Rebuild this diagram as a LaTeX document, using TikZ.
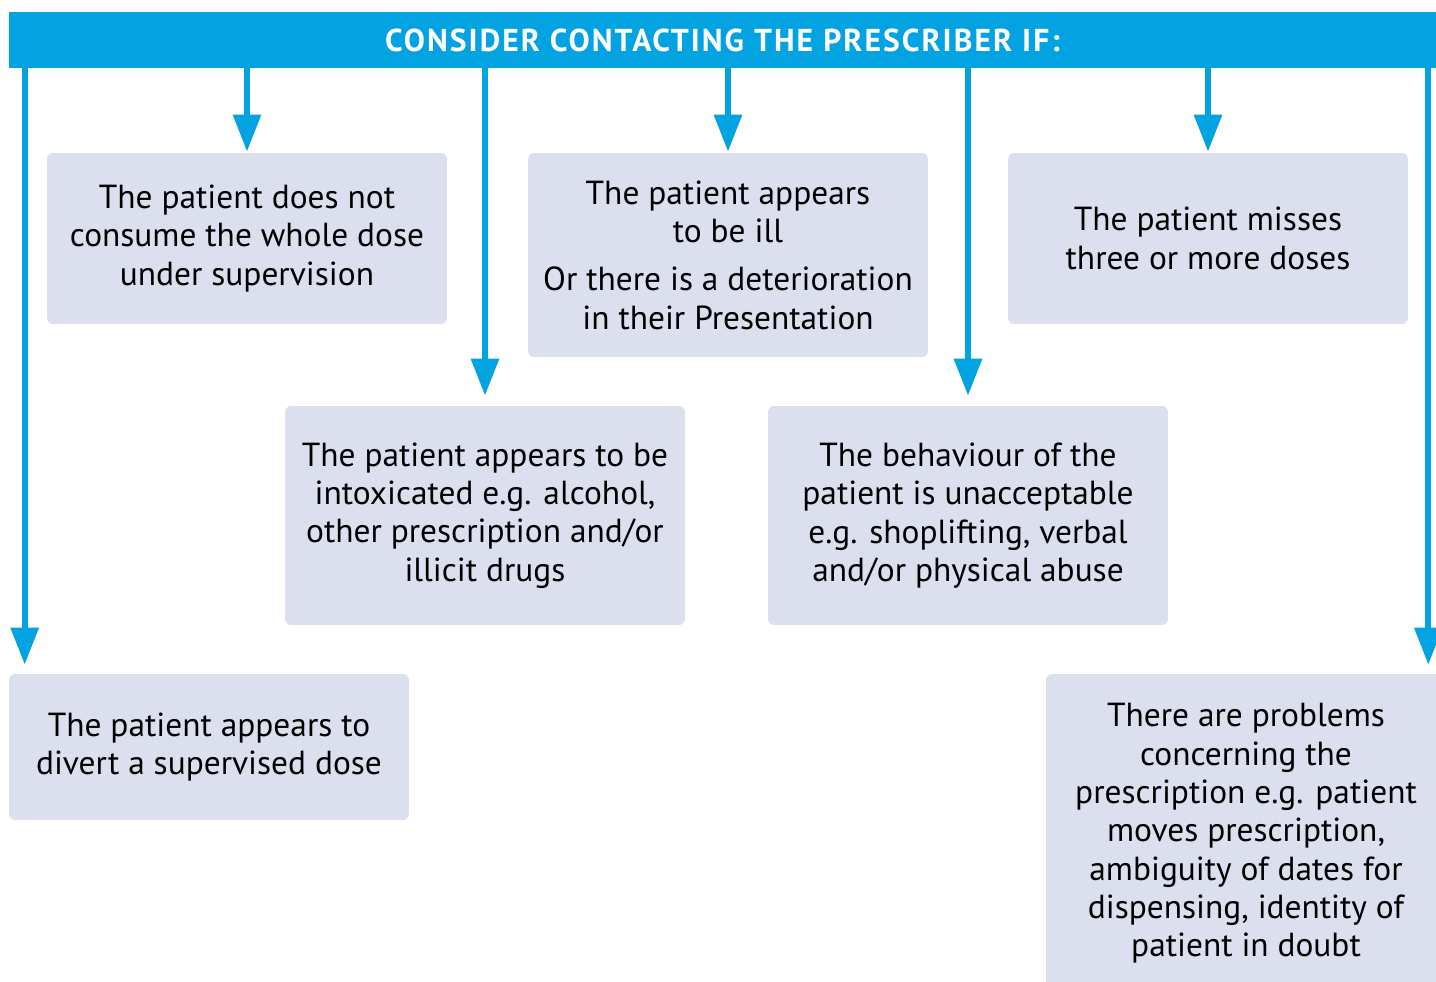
\documentclass[tikz,border=0pt]{standalone}
\usepackage{fontspec}
\setmainfont{PT Sans}
\usetikzlibrary{arrows.meta}
\definecolor{Cyan}{HTML}{03A2E1}
\definecolor{PaleLilac}{HTML}{DCE0EE}

\begin{document}
\begin{tikzpicture}[x=0.02cm,y=-0.02cm,
        box/.style={fill=PaleLilac,rounded corners=0.12cm,minimum width=8cm,inner sep=0pt,
                    align=center,font=\fontsize{19}{21.8}\selectfont},
        arr/.style={-{Triangle[length=0.74cm,width=0.54cm]},line width=0.12cm,Cyan}
      ]
        \useasboundingbox (0,0) rectangle (1436,981);
        \node[fill=Cyan,minimum width=28.54cm,minimum height=1.12cm,inner sep=0pt,text=white,
              font=\fontsize{18}{20}\selectfont\bfseries\addfontfeature{LetterSpace=6.5}] (banner)
              at (722.5,40) {CONSIDER CONTACTING THE PRESCRIBER IF:};
        \node[box,minimum height=3.42cm] (wholedose) at (247,238.5)
              {The patient does not\\consume the whole dose\\under supervision};
        \node[box,minimum height=4.08cm] (ill) at (728,255)
              {The patient appears\\to be ill\\[0.2cm]Or there is a deterioration\\in their Presentation};
        \node[box,minimum height=3.42cm] (misses) at (1208,238.5)
              {The patient misses\\three or more doses};
        \node[box,minimum height=4.38cm] (intox) at (485,515.5)
              {The patient appears to be\\intoxicated e.g. alcohol,\\other prescription and/or\\illicit drugs};
        \node[box,minimum height=4.38cm] (behaviour) at (968,515.5)
              {The behaviour of the\\patient is unacceptable\\e.g. shoplifting, verbal\\and/or physical abuse};
        \node[box,minimum height=2.92cm] (divert) at (209,747)
              {The patient appears to\\divert a supervised dose};
        \node[box,minimum height=6.38cm] (problems) at (1246,833.5)
              {There are problems\\concerning the\\prescription e.g. patient\\moves prescription,\\ambiguity of dates for\\dispensing, identity of\\patient in doubt};
        \coordinate (divertin) at ([xshift=0.32cm]divert.north west);
        \coordinate (problemsin) at ([xshift=-0.36cm]problems.north east);
        \draw[arr,shorten >=0.02cm] (banner.south -| wholedose) -- (wholedose.north);
        \draw[arr,shorten >=0.02cm] (banner.south -| ill) -- (ill.north);
        \draw[arr,shorten >=0.02cm] (banner.south -| misses) -- (misses.north);
        \draw[arr,shorten >=0.2cm] (banner.south -| intox) -- (intox.north);
        \draw[arr,shorten >=0.2cm] (banner.south -| behaviour) -- (behaviour.north);
        \draw[arr,shorten >=0.18cm] (banner.south -| divertin) -- (divertin);
        \draw[arr,shorten >=0.18cm] (banner.south -| problemsin) -- (problemsin);
      \end{tikzpicture}
\end{document}
